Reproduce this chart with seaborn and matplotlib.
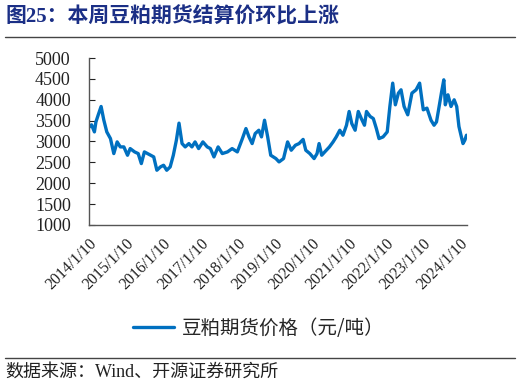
import matplotlib
matplotlib.use("Agg")
import matplotlib.pyplot as plt
import pandas as pd
import seaborn as sns

# 豆粕期货结算价
dates = [
    "2014-01-10", "2014-02-05", "2014-03-05", "2014-03-20", "2014-04-12", "2014-05-10",
    "2014-06-05", "2014-07-05", "2014-08-10", "2014-09-12", "2014-10-15", "2014-11-15",
    "2014-12-20", "2015-01-25", "2015-02-20", "2015-04-05", "2015-05-10", "2015-06-10",
    "2015-07-10", "2015-08-10", "2015-09-10", "2015-10-10", "2015-11-10", "2015-12-15",
    "2016-01-15", "2016-02-15", "2016-03-20", "2016-04-20", "2016-05-20", "2016-06-15",
    "2016-07-15", "2016-08-15", "2016-09-20", "2016-10-20", "2016-11-20", "2016-12-25",
    "2017-02-05", "2017-03-20", "2017-04-20", "2017-05-25", "2017-07-05", "2017-08-15",
    "2017-10-05", "2017-11-20", "2018-01-10", "2018-03-01", "2018-04-05", "2018-05-05",
    "2018-06-05", "2018-07-05", "2018-08-10", "2018-09-05", "2018-10-05", "2018-11-05",
    "2018-12-05", "2019-01-25", "2019-02-25", "2019-04-10", "2019-05-20", "2019-06-25",
    "2019-08-05", "2019-09-10", "2019-10-20", "2019-11-15", "2019-12-25", "2020-02-05",
    "2020-03-05", "2020-03-25", "2020-04-20", "2020-05-20", "2020-07-05", "2020-08-10",
    "2020-09-10", "2020-10-15", "2020-11-15", "2020-12-20", "2021-01-15", "2021-02-10",
    "2021-03-15", "2021-04-15", "2021-05-15", "2021-06-15", "2021-07-05", "2021-08-10",
    "2021-09-10", "2021-10-10", "2021-11-05", "2021-12-15", "2022-01-25", "2022-02-20",
    "2022-03-20", "2022-04-15", "2022-05-15", "2022-06-10", "2022-07-10", "2022-08-15",
    "2022-09-25", "2022-11-05", "2022-12-10", "2023-01-15", "2023-02-20", "2023-04-01",
    "2023-05-01", "2023-05-25", "2023-06-20", "2023-07-15", "2023-08-05", "2023-08-20",
    "2023-09-15", "2023-10-15", "2023-11-15", "2023-12-10", "2024-01-01", "2024-01-25",
    "2024-02-10", "2024-02-28", "2024-03-15",
]
prices = [
    3340, 3400, 3230, 3470, 3640, 3840,
    3520, 3230, 3070, 2710, 2990, 2870,
    2870, 2670, 2830, 2750, 2710, 2470,
    2750, 2710, 2670, 2630, 2310, 2390,
    2430, 2310, 2390, 2670, 3030, 3440,
    2950, 2870, 2950, 2870, 2990, 2830,
    2990, 2870, 2830, 2630, 2870, 2710,
    2750, 2830, 2750, 3070, 3310, 3110,
    2950, 3190, 3270, 3110, 3510, 3110,
    2670, 2590, 2510, 2590, 2990, 2790,
    2910, 2950, 3050, 2790, 2710, 2590,
    2710, 2950, 2670, 2750, 2870, 2990,
    3110, 3270, 3150, 3390, 3720, 3430,
    3270, 3720, 3550, 3390, 3720, 3600,
    3550, 3310, 3070, 3110, 3230, 3840,
    4400, 3880, 4160, 4240, 3840, 3640,
    4160, 4240, 4400, 3760, 3800, 3510,
    3390, 3470, 3840, 4200, 4480, 3880,
    4120, 3840, 4000, 3840, 3360, 3110,
    2950, 3030, 3150,
]
tick_dates = ["2014-01-10", "2015-01-10", "2016-01-10", "2017-01-10", "2018-01-10", "2019-01-10",
              "2020-01-10", "2021-01-10", "2022-01-10", "2023-01-10", "2024-01-10"]
tick_labels = ["2014/1/10", "2015/1/10", "2016/1/10", "2017/1/10", "2018/1/10", "2019/1/10",
               "2020/1/10", "2021/1/10", "2022/1/10", "2023/1/10", "2024/1/10"]
series_name = "豆粕期货价格（元/吨）"

df = pd.DataFrame({"date": pd.to_datetime(dates), "price": prices})

sns.set_style("ticks")
plt.rcParams['font.family'] = ['Liberation Serif', 'Noto Sans CJK SC']

fig = plt.figure(figsize=(5.2, 3.85), dpi=100)
ax = fig.add_axes([0.171, 0.416, 0.727, 0.433])

sns.lineplot(data=df, x="date", y="price", ax=ax, color="#0070C0", linewidth=2.4,
             label=series_name, legend=False)

ax.set_xlim(pd.Timestamp("2014-01-10"), pd.Timestamp("2024-03-20"))
ax.set_ylim(1000, 5000)
ax.set_yticks(range(1000, 5001, 500))
ax.set_xticks(pd.to_datetime(tick_dates))
ax.set_xticklabels(tick_labels, rotation=45, ha="right", rotation_mode="anchor")
ax.set_xlabel("")
ax.set_ylabel("")
ax.tick_params(axis="y", direction="in", length=4, labelsize=13, colors="#222222", pad=13)
ax.tick_params(axis="x", length=0, labelsize=11.5, colors="#222222", pad=8)
sns.despine(ax=ax)
for s in ["left", "bottom"]:
    ax.spines[s].set_color("#555555")
    ax.spines[s].set_linewidth(1.0)

leg = fig.legend(handles=ax.get_lines()[:1], labels=[series_name], loc="center",
                 bbox_to_anchor=(0.497, 0.146), frameon=False, handlelength=2.1,
                 handletextpad=0.4,
                 prop={"family": ["Noto Sans CJK SC"], "size": 14})

fig.text(0.01, 0.955, "图25：本周豆粕期货结算价环比上涨", fontsize=15, fontweight="bold",
         color="#1B2F86", family=["Liberation Serif", "Noto Sans CJK SC"], va="center")
fig.add_artist(plt.Line2D([0.01, 0.99], [0.905, 0.905], color="#444444", linewidth=1.0))
fig.add_artist(plt.Line2D([0.01, 0.99], [0.07, 0.07], color="#444444", linewidth=1.0))
fig.text(0.01, 0.033, "数据来源：Wind、开源证券研究所", fontsize=13, color="#222222",
         family=["Liberation Serif", "Noto Sans CJK SC"], va="center")

fig.savefig("out.png", dpi=100)
